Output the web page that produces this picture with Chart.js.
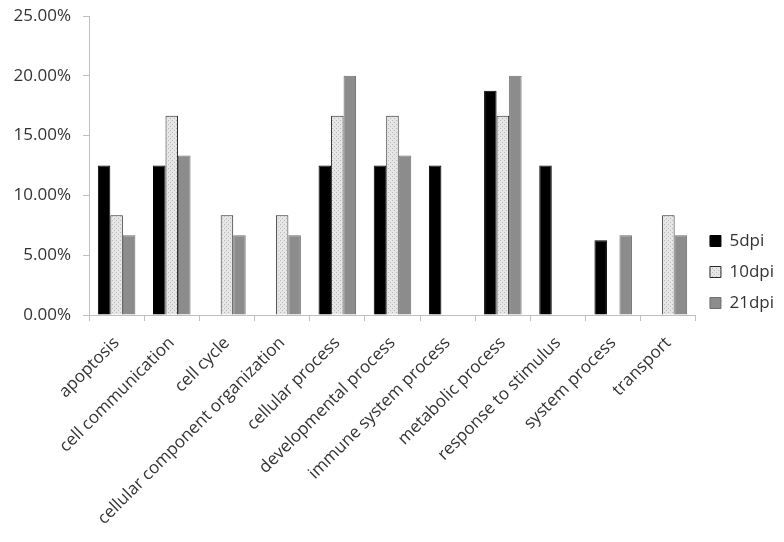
<!DOCTYPE html>
<html>
<head>
<meta charset="utf-8">
<script src="https://cdn.jsdelivr.net/npm/chart.js@4.4.0/dist/chart.umd.min.js"></script>
<style>
  html, body { margin: 0; padding: 0; background: #fff; }
  #wrap { width: 784px; height: 542px; }
</style>
</head>
<body>
<div id="wrap"><canvas id="goChart"></canvas></div>
<script>
// GO categories and share of genes per time point (%)
const categories = [
    'apoptosis', 'cell communication', 'cell cycle', 'cellular component organization',
    'cellular process', 'developmental process', 'immune system process',
    'metabolic process', 'response to stimulus', 'system process', 'transport'
];
const dpi5  = [12.5, 12.5, 0, 0, 12.5, 12.5, 12.5, 18.75, 12.5, 6.25, 0];
const dpi10 = [8.33, 16.67, 8.33, 8.33, 16.67, 16.67, 0, 16.67, 0, 0, 8.33];
const dpi21 = [6.67, 13.33, 6.67, 6.67, 20, 13.33, 0, 20, 0, 6.67, 6.67];
const seriesNames = ['5dpi', '10dpi', '21dpi'];
const yTicks = [0, 5, 10, 15, 20, 25];

// dotted light grey fill for 10dpi
function dotPattern() {
    const c = document.createElement('canvas');
    c.width = 4; c.height = 4;
    const g = c.getContext('2d');
    g.fillStyle = '#e6e6e6';
    g.fillRect(0, 0, 4, 4);
    g.fillStyle = '#b8b8b8';
    g.fillRect(0, 0, 1, 1);
    g.fillRect(2, 2, 1, 1);
    return g.createPattern(c, 'repeat');
}

const font = "'Open Sans', 'Liberation Sans', sans-serif";
const axisColor = '#c0c0c0';

new Chart(document.getElementById('goChart'), {
    type: 'bar',
    data: {
        labels: categories,
        datasets: [
            { label: seriesNames[0], data: dpi5, backgroundColor: '#000000', borderColor: '#000000', borderWidth: 1 },
            { label: seriesNames[1], data: dpi10, backgroundColor: dotPattern(), borderColor: '#2a2a2a', borderWidth: 1 },
            { label: seriesNames[2], data: dpi21, backgroundColor: '#8c8c8c', borderColor: '#6e6e6e', borderWidth: 1 }
        ]
    },
    options: {
        responsive: true,
        maintainAspectRatio: false,
        animation: false,
        datasets: { bar: { categoryPercentage: 0.68, barPercentage: 1.0 } },
        layout: { autoPadding: false, padding: { top: 16, left: 0, right: 0, bottom: 14 } },
        scales: {
            x: {
                offset: true,
                grid: { display: true, offset: true, drawOnChartArea: false, color: axisColor, tickLength: 6 },
                border: { color: axisColor },
                ticks: {
                    minRotation: 45, maxRotation: 45, autoSkip: false,
                    color: '#333', font: { family: font, size: 17 }, padding: 12
                },
                afterFit(scale) { scale.height = 213; }
            },
            y: {
                min: 0, max: 25,
                afterBuildTicks(scale) { scale.ticks = yTicks.map(v => ({ value: v })); },
                grid: { display: true, drawOnChartArea: false, color: axisColor, tickLength: 6 },
                border: { color: axisColor },
                ticks: {
                    // small lineHeight keeps the top label from pushing the plot down
                    color: '#333', font: { family: font, size: 17, lineHeight: 0.4 }, padding: 12,
                    callback: v => v.toFixed(2) + '%'
                },
                afterFit(scale) { scale.width = 89; }
            }
        },
        plugins: {
            legend: {
                position: 'right',
                labels: {
                    boxWidth: 11, boxHeight: 11, padding: 14,
                    color: '#333', font: { family: font, size: 17 }
                }
            },
            tooltip: { enabled: false }
        }
    }
});
</script>
</body>
</html>
